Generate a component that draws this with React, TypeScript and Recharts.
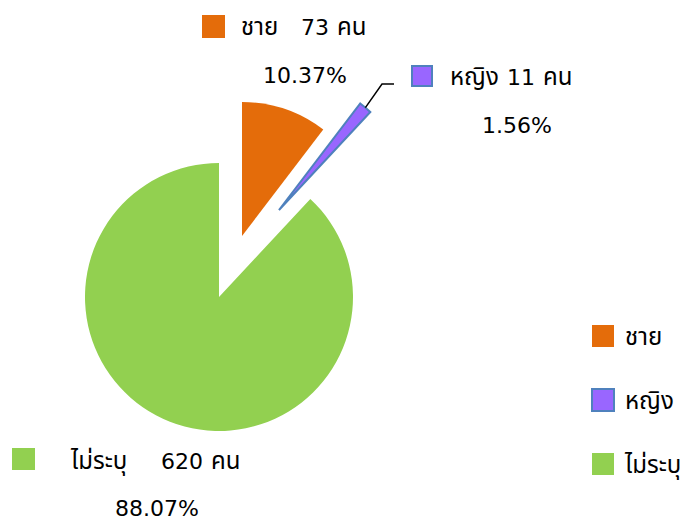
import { PieChart, Pie, Cell, Legend } from 'recharts';

const categories = ['ชาย', 'หญิง', 'ไม่ระบุ'];
const counts = [73, 11, 620];
const unit = 'คน';
const colors = ['#e46c0a', '#9966ff', '#92d050'];
const strokes = ['none', '#4f81bd', 'none'];

// how far each slice is pulled out of the pie (dx, dy)
const explode = [
    [23, -61],
    [60, -87],
    [0, 0],
];

// hand placed data labels, like the original
const labelPos = [
    { box: [202, 15, 23, 23], tx: 241, vx: 301, ty: 35, px: 305, py: 83 },
    { box: [412, 66, 20, 20], tx: 450, vx: 507, ty: 85, px: 517, py: 133, elbow: [382, 84, 394, 84] },
    { box: [12, 448, 23, 22], tx: 71, vx: 161, ty: 469, px: 157, py: 516 },
];

const data = categories.map((name, i) => ({ name, value: counts[i] }));

const FONT = "'DejaVu Sans', 'Noto Sans Thai', 'Noto Sans', sans-serif";
const THAI = "'Noto Sans Thai', 'DejaVu Sans', sans-serif";
const RADIAN = Math.PI / 180;
const CX = 219;
const CY = 297;

const renderLabel = (slice: number) => (props: any) => {
    const { index, cx, cy, midAngle, outerRadius, percent, value, name } = props;
    if (index !== slice) return null;
    const p = labelPos[index];
    let leader = null;
    if (p.elbow) {
        const x0 = cx + outerRadius * Math.cos(-midAngle * RADIAN);
        const y0 = cy + outerRadius * Math.sin(-midAngle * RADIAN);
        leader = (
            <polyline
                points={`${x0},${y0} ${p.elbow[0]},${p.elbow[1]} ${p.elbow[2]},${p.elbow[3]}`}
                fill="none"
                stroke="#000"
                strokeWidth={1.5}
            />
        );
    }
    return (
        <g>
            {leader}
            <rect
                x={p.box[0]}
                y={p.box[1]}
                width={p.box[2]}
                height={p.box[3]}
                fill={colors[index]}
                stroke={strokes[index]}
                strokeWidth={2}
            />
            <text x={p.tx} y={p.ty} fill="#000" fontSize={24} fontFamily={THAI}>
                {name}
            </text>
            <text x={p.vx} y={p.ty} fill="#000" fontSize={22} fontFamily={FONT}>
                {value}
                <tspan fontSize={24} fontFamily={THAI} dx={8}>{unit}</tspan>
            </text>
            <text x={p.px} y={p.py} fill="#000" fontSize={22} fontFamily={FONT} textAnchor="middle">
                {`${(percent * 100).toFixed(2)}%`}
            </text>
        </g>
    );
};

const renderLegend = () => (
    <svg width={101} height={190} style={{ overflow: 'visible' }}>
        {categories.map((c, i) => (
            <g key={c}>
                <rect
                    x={1}
                    y={11 + i * 64}
                    width={22}
                    height={22}
                    fill={colors[i]}
                    stroke={strokes[i]}
                    strokeWidth={2}
                />
                <text x={34} y={31 + i * 64} fontSize={24} fontFamily={THAI} fill="#000">
                    {c}
                </text>
            </g>
        ))}
    </svg>
);

export default function App() {
    return (
        <div style={{ position: 'absolute', left: 0, top: 0, width: 692, height: 520, background: '#fff' }}>
            <PieChart width={692} height={520} margin={{ top: 0, right: 0, bottom: 0, left: 0 }}>
                {/* one pie per slice so each can be pulled out on its own */}
                {explode.map(([dx, dy], k) => (
                    <Pie
                        key={k}
                        data={data}
                        dataKey="value"
                        nameKey="name"
                        cx={CX + dx}
                        cy={CY + dy}
                        outerRadius={134}
                        startAngle={90}
                        endAngle={-270}
                        label={renderLabel(k)}
                        labelLine={false}
                        isAnimationActive={false}
                    >
                        {data.map((d, i) => (
                            <Cell
                                key={d.name}
                                fill={i === k ? colors[i] : 'none'}
                                stroke={i === k ? strokes[i] : 'none'}
                                strokeWidth={i === k && i === 1 ? 2 : 0}
                            />
                        ))}
                    </Pie>
                ))}
                <Legend
                    content={renderLegend}
                    wrapperStyle={{ position: 'absolute', left: 591, top: 314, width: 101, height: 190 }}
                />
            </PieChart>
        </div>
    );
}
